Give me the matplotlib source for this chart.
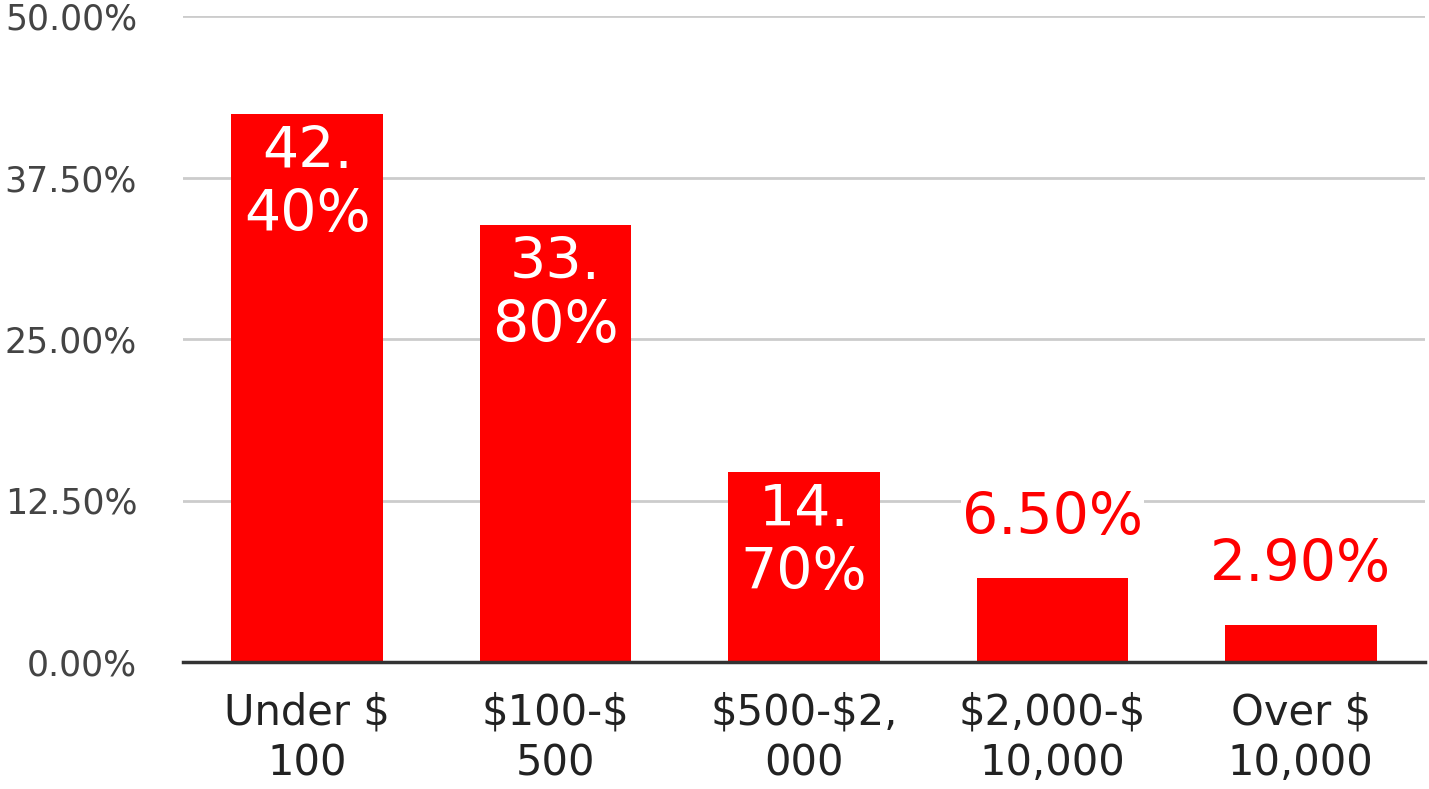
import matplotlib.pyplot as plt
import numpy as np

categories = ['Under $\n100', '$100-$\n500', '$500-$2,\n000', '$2,000-$\n10,000', 'Over $\n10,000']
values = [42.4, 33.8, 14.7, 6.5, 2.9]
value_labels = ['42.\n40%', '33.\n80%', '14.\n70%', '6.50%', '2.90%']
yticks = [0, 12.5, 25, 37.5, 50]

plt.rcParams['font.family'] = ['DejaVu Sans']
plt.rcParams['text.parse_math'] = False

fig = plt.figure(figsize=(14.29, 7.89), dpi=100)
ax = fig.add_axes([183 / 1429, 1 - 662 / 789, 1242 / 1429, 646 / 789])

x = np.arange(len(categories))
ax.bar(x, values, width=0.61, color='#ff0000', zorder=2)

ax.set_xlim(-0.5, len(categories) - 0.5)
ax.set_ylim(0, 50)
ax.set_yticks(yticks)
ax.set_yticklabels(['%.2f%%' % v for v in yticks], fontsize=25, color='#444444')
ax.set_xticks(x)
ax.set_xticklabels(categories, fontsize=30, color='#222222', linespacing=1.28)
ax.tick_params(axis='both', length=0)
ax.tick_params(axis='y', pad=33)
ax.tick_params(axis='x', pad=21)
ax.grid(axis='y', color='#cccccc', linewidth=2, zorder=0)
for s in ['top', 'right', 'left']:
    ax.spines[s].set_visible(False)
ax.spines['bottom'].set_color('#333333')
ax.spines['bottom'].set_linewidth(2.5)
ax.spines['bottom'].set_zorder(3)

for xi, v, lab in zip(x, values, value_labels):
    if '\n' in lab:
        ax.annotate(lab, (xi, v), xytext=(0, -8), textcoords='offset points',
                    ha='center', va='top', fontsize=41, color='white',
                    linespacing=1.18, zorder=4)
    else:
        ax.annotate(lab, (xi, v), xytext=(0, 23), textcoords='offset points',
                    ha='center', va='bottom', fontsize=41, color='#ff0000',
                    zorder=4, bbox=dict(facecolor='white', edgecolor='none', pad=1))

fig.savefig('out.png', dpi=100)
